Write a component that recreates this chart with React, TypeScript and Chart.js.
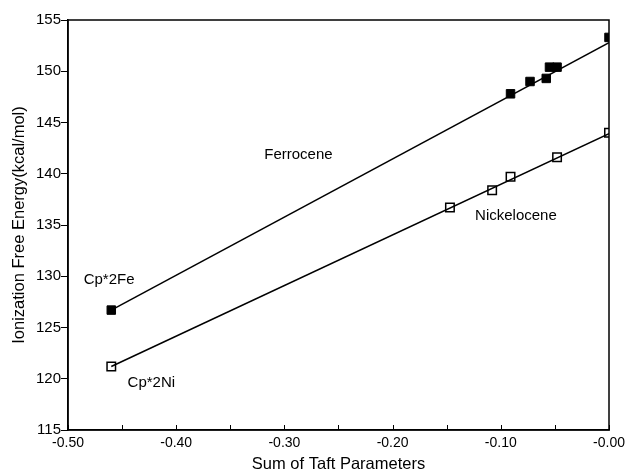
import React, { useEffect, useRef } from "react";
import { Chart, registerables } from "chart.js";
Chart.register(...registerables);

const ferroceneX = [-0.46, -0.091, -0.073, -0.058, -0.055, -0.048, 0.0];
const ferroceneY = [126.7, 147.8, 149.0, 149.3, 150.4, 150.4, 153.3];
const nickeloceneX = [-0.46, -0.147, -0.108, -0.091, -0.048, 0.0];
const nickeloceneY = [121.2, 136.7, 138.4, 139.7, 141.6, 144.0];
const ferroceneFitX = [-0.46, 0.0];
const ferroceneFitY = [126.7, 152.8];
const nickeloceneFitX = [-0.46, 0.0];
const nickeloceneFitY = [121.2, 143.9];
const xTicks = [-0.5, -0.4, -0.3, -0.2, -0.1, 0.0];
const yTicks = [115, 120, 125, 130, 135, 140, 145, 150, 155];
const noteTexts = ["Ferrocene", "Nickelocene", "Cp*2Fe", "Cp*2Ni"];
const noteX = [-0.287, -0.086, -0.462, -0.423];
const noteY = [141.8, 135.9, 129.6, 119.6];

const FONT = "'Liberation Sans', Arial, sans-serif";

const pts = (xs: number[], ys: number[]) => xs.map((x, i) => ({ x, y: ys[i] }));

const framePlugin = {
  id: "frame",
  afterDraw(chart: any) {
    const { ctx, chartArea: a, scales } = chart;
    ctx.save();
    ctx.strokeStyle = "#000";
    ctx.lineWidth = 1.5;
    ctx.strokeRect(a.left, a.top, a.right - a.left, a.bottom - a.top);
    // inward minor ticks on the x axis
    ctx.lineWidth = 1;
    for (let v = -0.5; v <= 0.0001; v += 0.05) {
      const px = Math.round(scales.x.getPixelForValue(v)) + 0.5;
      ctx.beginPath();
      ctx.moveTo(px, a.bottom);
      ctx.lineTo(px, a.bottom - 5);
      ctx.stroke();
    }
    // annotations
    ctx.fillStyle = "#000";
    ctx.font = `15px ${FONT}`;
    ctx.textAlign = "center";
    ctx.textBaseline = "middle";
    noteTexts.forEach((t, i) => {
      ctx.fillText(t, scales.x.getPixelForValue(noteX[i]), scales.y.getPixelForValue(noteY[i]));
    });
    ctx.restore();
  },
};

export default function App() {
  const ref = useRef<HTMLCanvasElement>(null);
  useEffect(() => {
    const chart = new Chart(ref.current!, {
      type: "scatter",
      data: {
        datasets: [
          {
            label: "Ferrocene fit",
            data: pts(ferroceneFitX, ferroceneFitY),
            showLine: true,
            borderColor: "#000",
            borderWidth: 1.5,
            pointRadius: 0,
          },
          {
            label: "Nickelocene fit",
            data: pts(nickeloceneFitX, nickeloceneFitY),
            showLine: true,
            borderColor: "#000",
            borderWidth: 1.5,
            pointRadius: 0,
          },
          {
            label: "Ferrocene",
            data: pts(ferroceneX, ferroceneY),
            pointStyle: "rect",
            pointRadius: 6,
            backgroundColor: "#000",
            borderColor: "#000",
            borderWidth: 1,
          },
          {
            label: "Nickelocene",
            data: pts(nickeloceneX, nickeloceneY),
            pointStyle: "rect",
            pointRadius: 6,
            backgroundColor: "#fff",
            borderColor: "#000",
            borderWidth: 1.5,
          },
        ],
      },
      options: {
        animation: false,
        responsive: false,
        layout: { padding: { top: 20, right: 22, left: 0, bottom: 0 } },
        plugins: { legend: { display: false }, tooltip: { enabled: false } },
        scales: {
          x: {
            type: "linear",
            min: -0.5,
            max: 0,
            afterBuildTicks: (s: any) => {
              s.ticks = xTicks.map((v) => ({ value: v }));
            },
            afterFit: (s: any) => {
              s.height = 44;
            },
            ticks: {
              color: "#000",
              font: { family: FONT, size: 14 },
              padding: 5,
              maxRotation: 0,
              callback: (v: any) => (Number(v) === 0 ? "-0.00" : Number(v).toFixed(2)),
            },
            grid: { drawOnChartArea: false, drawTicks: false },
            border: { color: "#000", width: 1.5 },
            title: {
              display: true,
              text: "Sum of Taft Parameters",
              color: "#000",
              font: { family: FONT, size: 16.5 },
              padding: { top: 0, bottom: 0 },
            },
          },
          y: {
            type: "linear",
            min: 115,
            max: 155,
            afterBuildTicks: (s: any) => {
              s.ticks = yTicks.map((v) => ({ value: v }));
            },
            afterFit: (s: any) => {
              s.width = 68;
            },
            ticks: {
              color: "#000",
              font: { family: FONT, size: 15 },
              padding: 0,
            },
            grid: { drawOnChartArea: false, drawTicks: true, tickLength: 7, color: "#000", tickWidth: 1 },
            border: { color: "#000", width: 1.5 },
            title: {
              display: true,
              text: "Ionization Free Energy(kcal/mol)",
              color: "#000",
              font: { family: FONT, size: 16.5 },
              padding: { top: 10, bottom: 0 },
            },
          },
        },
      },
      plugins: [framePlugin],
    } as any);
    return () => chart.destroy();
  }, []);
  return (
    <div style={{ position: "fixed", left: 0, top: 0, width: 631, height: 474, background: "#fff" }}>
      <canvas ref={ref} width={631} height={474} style={{ width: 631, height: 474 }} />
    </div>
  );
}
